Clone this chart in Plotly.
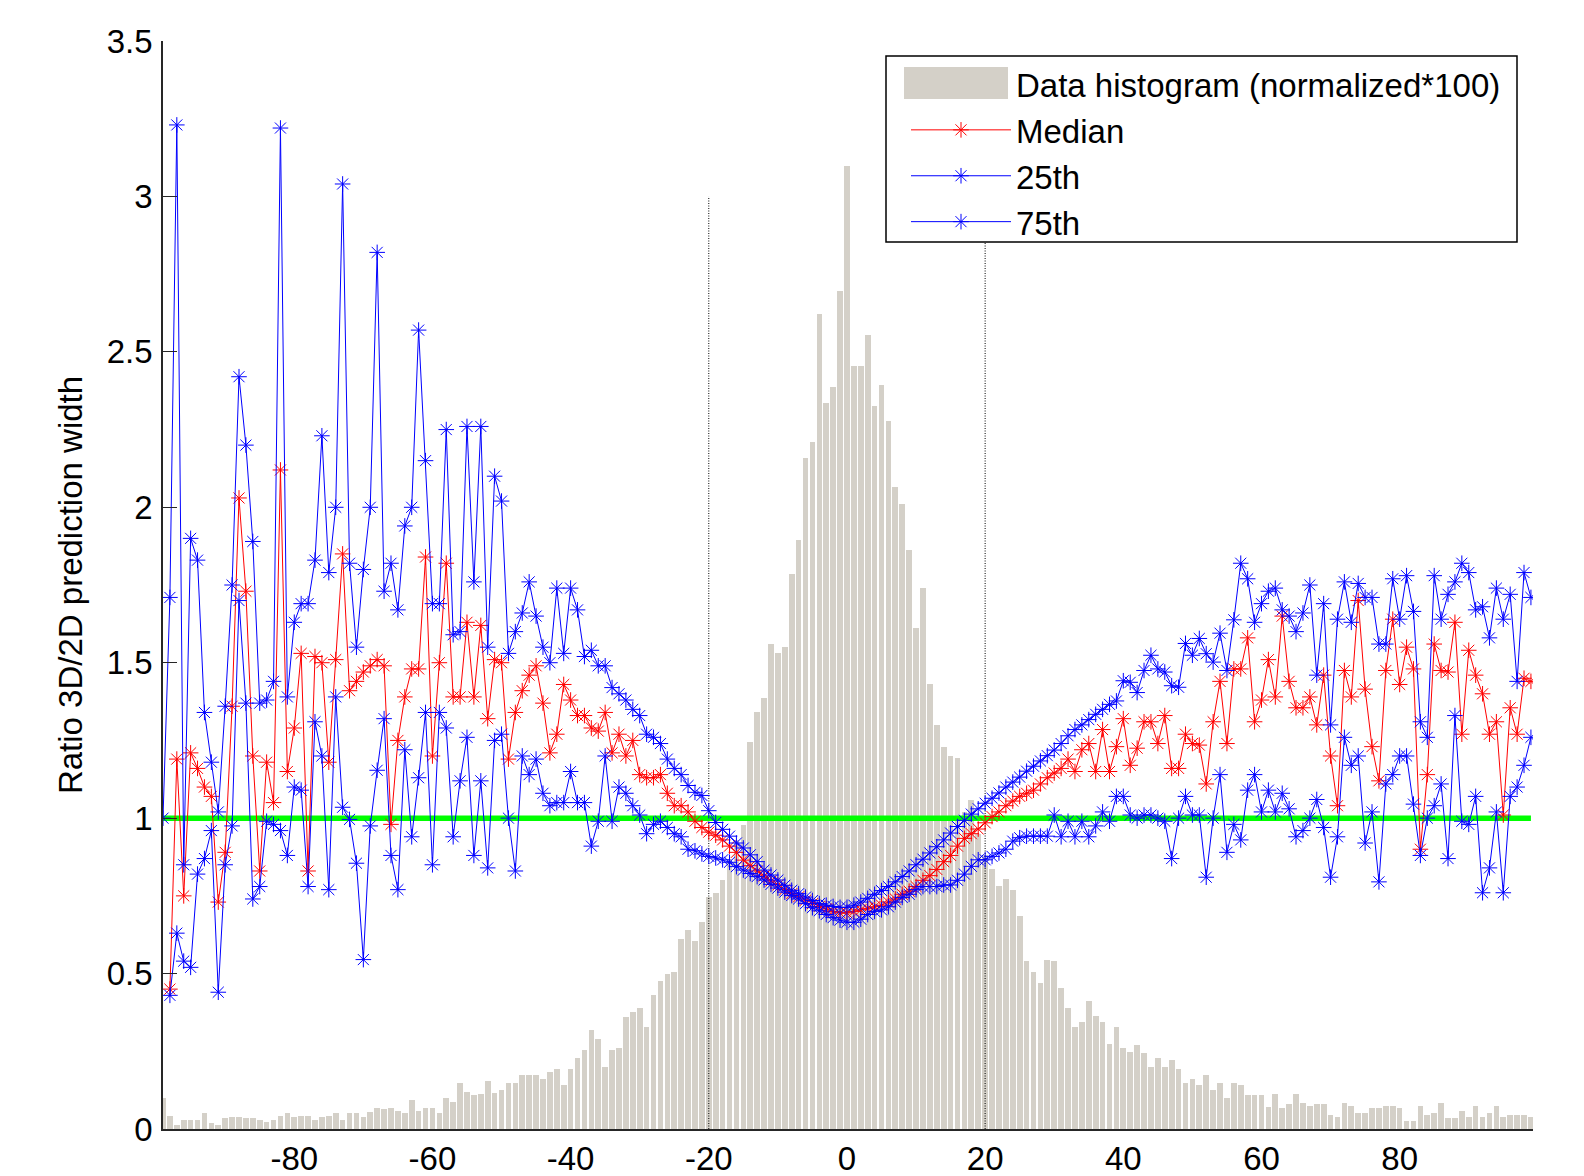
import plotly.graph_objects as go

# ---------------- data ----------------
x_vals = list(range(-99, 100))

hist_vals = [
    0.100, 0.041, 0.012, 0.028, 0.028, 0.028, 0.052, 0.019, 0.012, 0.034,   # -99..-90
    0.039, 0.039, 0.034, 0.034, 0.028, 0.023, 0.028, 0.041, 0.050, 0.039,   # -89..-80
    0.041, 0.041, 0.028, 0.039, 0.042, 0.052, 0.028, 0.052, 0.052, 0.039,   # -79..-70
    0.055, 0.066, 0.064, 0.066, 0.058, 0.053, 0.094, 0.059, 0.066, 0.066,   # -69..-60
    0.053, 0.101, 0.086, 0.148, 0.120, 0.109, 0.113, 0.154, 0.115, 0.126,   # -59..-50
    0.148, 0.148, 0.175, 0.175, 0.175, 0.162, 0.183, 0.194, 0.140, 0.194,   # -49..-40
    0.228, 0.254, 0.317, 0.289, 0.200, 0.254, 0.261, 0.361, 0.376, 0.389,   # -39..-30
    0.328, 0.431, 0.477, 0.498, 0.505, 0.612, 0.640, 0.605, 0.667, 0.747,   # -29..-20
    0.760, 0.800, 0.870, 0.930, 0.977, 1.246, 1.342, 1.388, 1.559, 1.532,   # -19..-10
    1.551, 1.787, 1.894, 2.158, 2.211, 2.623, 2.334, 2.386, 2.696,          # -9..-1
    3.097,                                                                  # 0
    2.455, 2.455, 2.555, 2.327, 2.394, 2.279, 2.064, 2.009, 1.861, 1.611,   # 1..10
    1.740, 1.430, 1.301, 1.228, 1.201, 1.194, 1.020, 1.057, 0.950, 0.880,   # 11..20
    0.835, 0.781, 0.803, 0.768, 0.686, 0.540, 0.505, 0.471, 0.545, 0.540,   # 21..30
    0.452, 0.390, 0.329, 0.344, 0.411, 0.363, 0.344, 0.275, 0.329, 0.262,   # 31..40
    0.249, 0.270, 0.243, 0.200, 0.228, 0.200, 0.222, 0.194, 0.148, 0.161,   # 41..50
    0.140, 0.175, 0.126, 0.148, 0.101, 0.148, 0.140, 0.108, 0.108, 0.108,   # 51..60
    0.072, 0.113, 0.066, 0.079, 0.113, 0.085, 0.074, 0.079, 0.079, 0.044,   # 61..70
    0.039, 0.085, 0.074, 0.052, 0.052, 0.066, 0.066, 0.074, 0.074, 0.066,   # 71..80
    0.026, 0.026, 0.074, 0.044, 0.052, 0.085, 0.034, 0.034, 0.059, 0.039,   # 81..90
    0.074, 0.039, 0.052, 0.074, 0.039, 0.044, 0.044, 0.045, 0.040,          # 91..99
]

median_vals = [
    None, 0.45, 1.19, 0.75, 1.21, 1.16, 1.10, 1.07, 0.73, 0.89,             # -99..-90
    1.36, 2.03, 1.73, 1.20, 0.83, 1.18, 1.05, 2.12, 1.15, 1.29,             # -89..-80
    1.53, 0.83, 1.52, 1.50, 1.18, 1.51, 1.85, 1.41, 1.44, 1.47,             # -79..-70
    1.49, 1.51, 1.49, 0.98, 1.25, 1.39, 1.48, 1.48, 1.84, 1.20,             # -69..-60
    1.50, 1.82, 1.39, 1.39, 1.63, 1.39, 1.62, 1.32, 1.51, 1.50,             # -59..-50
    1.19, 1.34, 1.41, 1.46, 1.49, 1.37, 1.21, 1.27, 1.43, 1.38,             # -49..-40
    1.33, 1.33, 1.29, 1.28, 1.34, 1.21, 1.27, 1.20, 1.25, 1.14,             # -39..-30
    1.13, 1.13, 1.14, 1.08, 1.04, 1.04, 1.02, 0.99, 0.97, 0.955,            # -29..-20
    0.945, 0.93, 0.91, 0.89, 0.865, 0.847, 0.83, 0.814, 0.798, 0.785,       # -19..-10
    0.77, 0.757, 0.747, 0.736, 0.725, 0.716, 0.708, 0.70, 0.695,            # -9..-1
    0.695,                                                                  # 0
    0.70, 0.705, 0.71, 0.715, 0.72, 0.73, 0.74, 0.755, 0.765, 0.78,         # 1..10
    0.80, 0.815, 0.835, 0.86, 0.88, 0.91, 0.935, 0.95, 0.965, 0.985,        # 11..20
    1.005, 1.02, 1.04, 1.055, 1.07, 1.08, 1.09, 1.11, 1.13, 1.145,          # 21..30
    1.16, 1.19, 1.15, 1.22, 1.24, 1.15, 1.285, 1.15, 1.23, 1.32,            # 31..40
    1.17, 1.225, 1.31, 1.31, 1.24, 1.33, 1.16, 1.16, 1.27, 1.24,            # 41..50
    1.235, 1.11, 1.31, 1.44, 1.24, 1.48, 1.48, 1.58, 1.31, 1.38,            # 51..60
    1.51, 1.39, 1.65, 1.44, 1.355, 1.355, 1.39, 1.30, 1.46, 1.20,           # 61..70
    1.04, 1.475, 1.39, 1.70, 1.415, 1.23, 1.12, 1.475, 1.64, 1.43,          # 71..80
    1.55, 1.48, 0.90, 1.14, 1.56, 1.475, 1.47, 1.63, 1.27, 1.54,            # 81..90
    1.46, 1.40, 1.27, 1.31, 1.01, 1.355, 1.27, 1.45, 1.44,                  # 91..99
]

p25_vals = [
    None, 0.43, 0.63, 0.54, 0.52, 0.82, 0.87, 0.96, 0.44, 0.85,             # -99..-90
    0.975, 1.70, 1.37, 0.74, 0.78, 0.99, 0.98, 0.96, 0.88, 1.10,            # -89..-80
    1.09, 0.78, 1.31, 1.20, 0.77, 1.39, 1.035, 0.996, 0.855, 0.545,         # -79..-70
    0.975, 1.154, 1.32, 0.88, 0.77, 1.22, 0.94, 1.13, 1.34, 0.85,           # -69..-60
    1.34, 1.29, 0.94, 1.12, 1.26, 0.88, 1.12, 0.84, 1.25, 1.27,             # -59..-50
    1.00, 0.83, 1.20, 1.14, 1.19, 1.08, 1.04, 1.05, 1.05, 1.15,             # -49..-40
    1.05, 1.05, 0.91, 0.99, 1.20, 0.99, 1.10, 1.08, 1.04, 1.01,             # -39..-30
    0.95, 0.98, 0.99, 0.97, 0.95, 0.94, 0.90, 0.895, 0.885, 0.877,          # -29..-20
    0.872, 0.866, 0.858, 0.844, 0.833, 0.822, 0.812, 0.801, 0.787, 0.775,   # -19..-10
    0.762, 0.751, 0.740, 0.725, 0.712, 0.702, 0.690, 0.680, 0.672,          # -9..-1
    0.665,                                                                  # 0
    0.665, 0.675, 0.69, 0.70, 0.705, 0.715, 0.73, 0.745, 0.755, 0.77,       # 1..10
    0.78, 0.78, 0.78, 0.785, 0.785, 0.80, 0.82, 0.845, 0.866, 0.866,        # 11..20
    0.877, 0.888, 0.90, 0.926, 0.937, 0.942, 0.942, 0.942, 0.942, 1.01,    # 21..30
    0.94, 0.99, 0.94, 0.99, 0.94, 0.975, 1.02, 0.99, 1.07, 1.07,            # 31..40
    1.01, 1.00, 1.01, 1.01, 1.00, 0.99, 0.87, 1.00, 1.07, 1.01,             # 41..50
    1.01, 0.81, 1.00, 1.14, 0.89, 0.98, 0.93, 1.09, 1.14, 1.02,             # 51..60
    1.09, 1.02, 1.08, 1.03, 0.94, 0.96, 1.00, 1.06, 0.97, 0.81,             # 61..70
    0.94, 1.26, 1.17, 1.20, 0.92, 1.02, 0.795, 1.11, 1.14, 1.20,            # 71..80
    1.20, 1.045, 0.88, 1.00, 1.04, 1.11, 0.87, 1.33, 0.99, 0.98,            # 81..90
    1.07, 0.76, 0.84, 1.02, 0.76, 1.07, 1.10, 1.17, 1.26,                   # 91..99
]

p75_vals = [
    1.00, 1.71, 3.23, 0.85, 1.90, 1.83, 1.34, 1.18, 1.02, 1.36,             # -99..-90
    1.75, 2.42, 2.20, 1.89, 1.37, 1.38, 1.44, 3.22, 1.39, 1.63,             # -89..-80
    1.69, 1.69, 1.83, 2.23, 1.79, 2.00, 3.04, 1.82, 1.55, 1.80,             # -79..-70
    2.00, 2.82, 1.73, 1.82, 1.67, 1.94, 2.00, 2.57, 2.15, 1.69,             # -69..-60
    1.69, 2.25, 1.59, 1.60, 2.26, 1.76, 2.26, 1.55, 2.10, 2.02,             # -59..-50
    1.53, 1.60, 1.66, 1.76, 1.65, 1.55, 1.50, 1.74, 1.53, 1.74,             # -49..-40
    1.67, 1.52, 1.54, 1.49, 1.49, 1.42, 1.40, 1.38, 1.35, 1.33,             # -39..-30
    1.27, 1.26, 1.24, 1.19, 1.16, 1.14, 1.105, 1.083, 1.073, 1.024,         # -29..-20
    0.986, 0.964, 0.942, 0.920, 0.904, 0.882, 0.860, 0.833, 0.817, 0.801,  # -19..-10
    0.784, 0.768, 0.757, 0.746, 0.735, 0.725, 0.72, 0.716, 0.713,          # -9..-1
    0.713,                                                                  # 0
    0.72, 0.73, 0.742, 0.755, 0.767, 0.78, 0.795, 0.812, 0.83, 0.85,        # 1..10
    0.868, 0.888, 0.908, 0.93, 0.952, 0.973, 0.993, 1.013, 1.03, 1.048,     # 11..20
    1.064, 1.081, 1.10, 1.116, 1.132, 1.151, 1.167, 1.184, 1.201, 1.219,    # 21..30
    1.24, 1.265, 1.285, 1.30, 1.317, 1.334, 1.35, 1.366, 1.377, 1.442,      # 31..40
    1.437, 1.404, 1.475, 1.524, 1.48, 1.47, 1.426, 1.421, 1.562, 1.524,     # 41..50
    1.578, 1.529, 1.502, 1.595, 1.475, 1.638, 1.82, 1.77, 1.63, 1.69,       # 51..60
    1.73, 1.74, 1.67, 1.65, 1.60, 1.66, 1.75, 1.46, 1.69, 1.30,             # 61..70
    1.64, 1.76, 1.63, 1.755, 1.71, 1.71, 1.56, 1.56, 1.77, 1.64,            # 71..80
    1.78, 1.665, 1.31, 1.26, 1.78, 1.64, 1.72, 1.76, 1.82, 1.79,            # 81..90
    1.67, 1.68, 1.58, 1.74, 1.64, 1.72, 1.44, 1.79, 1.71,                   # 91..99
]

x_tick_vals = [-80, -60, -40, -20, 0, 20, 40, 60, 80]
x_tick_text = ["-80", "-60", "-40", "-20", "0", "20", "40", "60", "80"]
y_tick_vals = [0, 0.5, 1, 1.5, 2, 2.5, 3, 3.5]
y_tick_text = ["0", "0.5", "1", "1.5", "2", "2.5", "3", "3.5"]

cutoff_x = [-20, 20]        # vertical dotted guide lines
cutoff_top = 3.0
reference_ratio = 1.0       # green reference level

series_names = ["Median", "25th", "75th"]
legend_hist_name = "Data histogram (normalized*100)"

# ---------------- styling ----------------
FONT = "Liberation Sans, Arial, sans-serif"
FS = 33
BAR_COLOR = "#D4D0C8"
RED = "#FF0000"
BLUE = "#0000FF"

ML, MR, MT, MB = 163, 51, 41, 47
W, H = 1584, 1176
PW, PH = W - ML - MR, H - MT - MB


def px_to_paper_x(px):
    return (px - ML) / PW


def px_to_paper_y(py):
    return (H - MB - py) / PH


fig = go.Figure()

# histogram bars
fig.add_trace(go.Bar(
    x=x_vals, y=hist_vals, width=0.82,
    marker=dict(color=BAR_COLOR, line=dict(width=0)),
    showlegend=False, hoverinfo="skip",
))

# dotted guide lines at +-20
for cx in cutoff_x:
    fig.add_trace(go.Scatter(
        x=[cx, cx], y=[0, cutoff_top], mode="lines",
        line=dict(color="#000000", width=1, dash="1px,1.5px"),
        showlegend=False, hoverinfo="skip",
    ))

# green reference line at ratio 1
fig.add_trace(go.Scatter(
    x=[x_vals[0], x_vals[-1]], y=[reference_ratio, reference_ratio], mode="lines",
    line=dict(color="#00FF00", width=5.5),
    showlegend=False, hoverinfo="skip",
))

# dummy legend entry for histogram (patch drawn as a shape)
fig.add_trace(go.Scatter(
    x=[None], y=[None], mode="lines", name=legend_hist_name,
    line=dict(color="rgba(0,0,0,0)", width=1), legendrank=1,
))

for name, vals, col, rank in [
    (series_names[0], median_vals, RED, 2),
    (series_names[1], p25_vals, BLUE, 3),
    (series_names[2], p75_vals, BLUE, 4),
]:
    fig.add_trace(go.Scatter(
        x=x_vals, y=vals, mode="lines+markers", name=name,
        line=dict(color=col, width=1),
        marker=dict(symbol="asterisk-open", size=13, color=col,
                    line=dict(color=col, width=1)),
        connectgaps=False, legendrank=rank,
    ))

# legend box and histogram patch (pixel positions -> paper coordinates)
fig.add_shape(type="rect", xref="paper", yref="paper",
              x0=px_to_paper_x(886), x1=px_to_paper_x(1517),
              y0=px_to_paper_y(242), y1=px_to_paper_y(56),
              fillcolor="white", line=dict(color="#000000", width=1.5), layer="above")
fig.add_shape(type="rect", xref="paper", yref="paper",
              x0=px_to_paper_x(904), x1=px_to_paper_x(1008),
              y0=px_to_paper_y(99), y1=px_to_paper_y(67),
              fillcolor=BAR_COLOR, line=dict(width=0), layer="above")

fig.update_layout(
    width=W, height=H,
    margin=dict(l=ML, r=MR, t=MT, b=MB, pad=0),
    paper_bgcolor="white", plot_bgcolor="white",
    font=dict(family=FONT, size=FS, color="#000000"),
    bargap=0,
    showlegend=True,
    legend=dict(
        x=px_to_paper_x(906), y=px_to_paper_y(56), xanchor="left", yanchor="top",
        bgcolor="rgba(0,0,0,0)", borderwidth=0,
        font=dict(family=FONT, size=FS, color="#000000"),
        itemwidth=100, tracegroupgap=0,
    ),
    xaxis=dict(
        range=[-99, 99.3], showgrid=False, zeroline=False, automargin=False,
        showline=True, linecolor="#262626", linewidth=1.5, mirror=False,
        ticks="inside", ticklen=12, tickwidth=1, tickcolor="#262626",
        tickvals=x_tick_vals, ticktext=x_tick_text,
        tickfont=dict(family=FONT, size=FS), ticklabelstandoff=0,
        layer="below traces",
    ),
    yaxis=dict(
        range=[0, 3.5], showgrid=False, zeroline=False, automargin=False,
        showline=True, linecolor="#262626", linewidth=1.5, mirror=False,
        ticks="inside", ticklen=14, tickwidth=1, tickcolor="#262626",
        tickvals=y_tick_vals, ticktext=y_tick_text,
        tickfont=dict(family=FONT, size=FS), ticklabelstandoff=2,
        title=dict(text="Ratio 3D/2D prediction width", font=dict(family=FONT, size=FS), standoff=14),
    ),
)

fig.write_html("out.html")
